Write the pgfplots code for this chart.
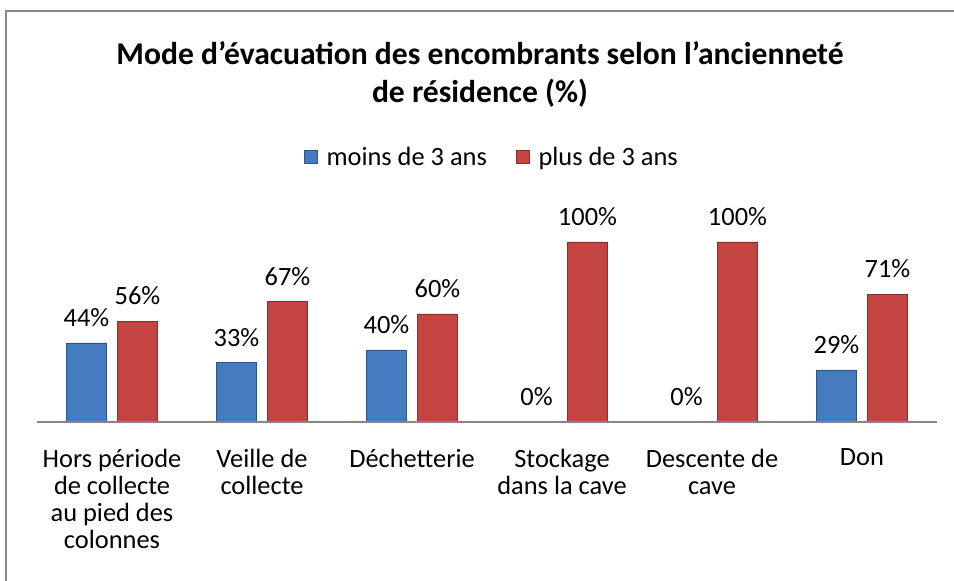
\documentclass[border=0pt]{standalone}
\usepackage{fontspec}
\setmainfont{Carlito}
\usepackage{pgfplots}
\pgfplotsset{compat=1.18}
\definecolor{bblue}{RGB}{68,123,190}
\definecolor{bblueD}{RGB}{45,85,135}
\definecolor{bred}{RGB}{195,68,65}
\definecolor{bredD}{RGB}{135,45,43}
\definecolor{frame}{RGB}{134,134,134}
\begin{document}
\begin{tikzpicture}[x=0.75pt,y=0.75pt]
% chart frame (only top and left edges are visible)
\draw[frame, line width=1.5pt] (6,0) -- (6,570) -- (954,570);
% title
\node[font=\fontsize{23.7}{26}\selectfont\bfseries] at (480,528) {Mode d'évacuation des encombrants selon l'ancienneté};
\node[font=\fontsize{23.7}{26}\selectfont\bfseries] at (480,488) {de résidence (\%)};
\begin{axis}[
    at={(84pt,119.25pt)}, anchor=origin,
    scale only axis,
    width=675pt, height=135pt,
    ybar=8.25pt, bar width=30pt,
    xmin=-0.5, xmax=5.5,
    ymin=0, ymax=100,
    axis on top,
    axis x line*=bottom,
    hide y axis,
    x axis line style={frame, line width=1.5pt, -},
    xtick={0,...,5},
    xticklabels={{Hors période\\de collecte\\au pied des\\colonnes},
                 {Veille de\\collecte},
                 {Déchetterie},
                 {Stockage\\dans la cave},
                 {Descente de\\cave},
                 {Don}},
    major tick length=0pt,
    x tick label style={align=center, font=\fontsize{19.8}{20.25}\selectfont, yshift=-16.5pt},
    clip=false,
    nodes near coords={\pgfmathprintnumber[assume math mode=true]{\pgfplotspointmeta}\%},
    every node near coord/.append style={font=\fontsize{19.8}{22}\selectfont, black, yshift=8.5pt},
    legend style={draw=none, at={(0.5056,1.472)}, anchor=center, legend columns=2,
        font=\fontsize{19.8}{22}\selectfont,
        /tikz/every odd column/.append style={column sep=5pt},
        /tikz/every even column/.append style={column sep=19.5pt}},
    legend image code/.code={\fill[#1] (0pt,-4.9pt) rectangle (9.8pt,4.9pt);},
]
\addplot[fill=bblue, draw=bblueD] coordinates {(0,44) (1,33) (2,40) (3,0) (4,0) (5,29)};
\addlegendentry{moins de 3 ans}
\addplot[fill=bred, draw=bredD] coordinates {(0,56) (1,67) (2,60) (3,100) (4,100) (5,71)};
\addlegendentry{plus de 3 ans}
\end{axis}
\pgfresetboundingbox
\path[use as bounding box] (0,0) rectangle (954,581);
\end{tikzpicture}
\end{document}
